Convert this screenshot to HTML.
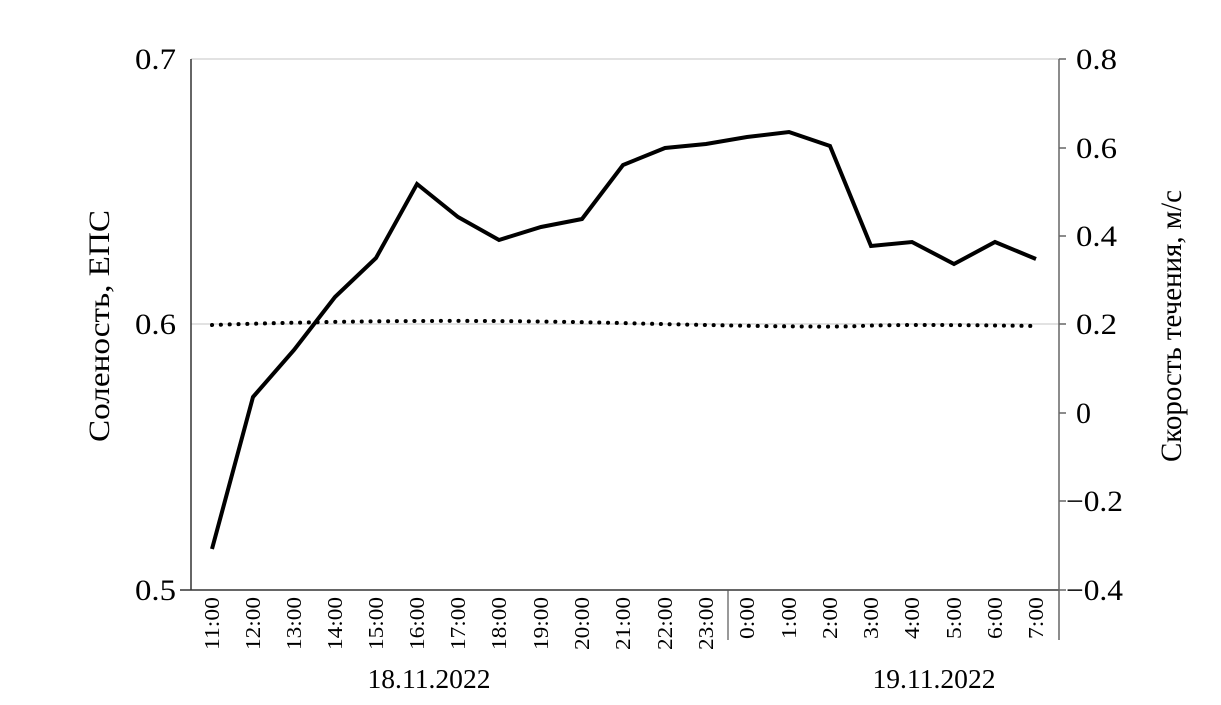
<!DOCTYPE html>
<html><head><meta charset="utf-8"><style>
html,body{margin:0;padding:0;background:#fff;}
svg text{font-family:"Liberation Serif",serif;fill:#000;}
</style></head><body>
<svg width="1221" height="700" viewBox="0 0 1221 700" xmlns="http://www.w3.org/2000/svg">
<rect width="1221" height="700" fill="#fff"/>
<line x1="191" y1="59" x2="1059" y2="59" stroke="#d9d9d9" stroke-width="1.5"/>
<line x1="191" y1="324" x2="1059" y2="324" stroke="#d9d9d9" stroke-width="1.5"/>
<line x1="191" y1="59" x2="191" y2="590" stroke="#333" stroke-width="1.5"/>
<line x1="180" y1="590" x2="1059" y2="590" stroke="#333" stroke-width="1.5"/>
<line x1="1059" y1="59" x2="1059" y2="640" stroke="#666" stroke-width="1.5"/>
<line x1="728" y1="590" x2="728" y2="640" stroke="#555" stroke-width="1.2"/>
<g stroke="#666" stroke-width="1.5">
<line x1="1059" y1="59" x2="1066" y2="59"/><line x1="1059" y1="148" x2="1066" y2="148"/>
<line x1="1059" y1="236" x2="1066" y2="236"/><line x1="1059" y1="324" x2="1066" y2="324"/>
<line x1="1059" y1="413" x2="1066" y2="413"/><line x1="1059" y1="501" x2="1066" y2="501"/>
<line x1="1059" y1="590" x2="1066" y2="590"/>
</g>
<g font-size="30" text-anchor="end" lengthAdjust="spacingAndGlyphs">
<text x="176" y="69" textLength="41" lengthAdjust="spacingAndGlyphs">0.7</text>
<text x="176" y="334" textLength="41" lengthAdjust="spacingAndGlyphs">0.6</text>
<text x="176" y="600" textLength="41" lengthAdjust="spacingAndGlyphs">0.5</text>
</g>
<g font-size="30">
<text x="1076" y="69" textLength="41" lengthAdjust="spacingAndGlyphs">0.8</text>
<text x="1076" y="158" textLength="41" lengthAdjust="spacingAndGlyphs">0.6</text>
<text x="1076" y="246" textLength="41" lengthAdjust="spacingAndGlyphs">0.4</text>
<text x="1076" y="334" textLength="41" lengthAdjust="spacingAndGlyphs">0.2</text>
<text x="1076" y="423">0</text>
<text x="1066" y="511" textLength="57" lengthAdjust="spacingAndGlyphs">−0.2</text>
<text x="1066" y="600" textLength="57" lengthAdjust="spacingAndGlyphs">−0.4</text>
</g>
<text transform="translate(109,326) rotate(-90)" font-size="30" text-anchor="middle" textLength="232" lengthAdjust="spacingAndGlyphs">Соленость, ЕПС</text>
<text transform="translate(1181,326) rotate(-90)" font-size="30" text-anchor="middle" textLength="272" lengthAdjust="spacingAndGlyphs">Скорость течения, м/с</text>
<polyline fill="none" stroke="#000" stroke-width="4" stroke-linejoin="miter" points="212,549 253,397 294,350 335,297 376,258 417,184 458,217 499,240 541,227 582,219 623,165 665,148 706,144 747,137 789,132 830,146 871,246 912,242 954,264 995,242 1036,259"/>
<path d="M212,325 Q420,318 620,323 T860,326 T1036,326" fill="none" stroke="#000" stroke-width="4" stroke-linecap="round" stroke-dasharray="0.1 8.7"/>
<g font-size="21" text-anchor="end">
<text transform="translate(219,597) rotate(-90)" textLength="53" lengthAdjust="spacingAndGlyphs">11:00</text>
<text transform="translate(260,597) rotate(-90)" textLength="53" lengthAdjust="spacingAndGlyphs">12:00</text>
<text transform="translate(301,597) rotate(-90)" textLength="53" lengthAdjust="spacingAndGlyphs">13:00</text>
<text transform="translate(342,597) rotate(-90)" textLength="53" lengthAdjust="spacingAndGlyphs">14:00</text>
<text transform="translate(383,597) rotate(-90)" textLength="53" lengthAdjust="spacingAndGlyphs">15:00</text>
<text transform="translate(424,597) rotate(-90)" textLength="53" lengthAdjust="spacingAndGlyphs">16:00</text>
<text transform="translate(465,597) rotate(-90)" textLength="53" lengthAdjust="spacingAndGlyphs">17:00</text>
<text transform="translate(506,597) rotate(-90)" textLength="53" lengthAdjust="spacingAndGlyphs">18:00</text>
<text transform="translate(548,597) rotate(-90)" textLength="53" lengthAdjust="spacingAndGlyphs">19:00</text>
<text transform="translate(589,597) rotate(-90)" textLength="53" lengthAdjust="spacingAndGlyphs">20:00</text>
<text transform="translate(630,597) rotate(-90)" textLength="53" lengthAdjust="spacingAndGlyphs">21:00</text>
<text transform="translate(672,597) rotate(-90)" textLength="53" lengthAdjust="spacingAndGlyphs">22:00</text>
<text transform="translate(713,597) rotate(-90)" textLength="53" lengthAdjust="spacingAndGlyphs">23:00</text>
<text transform="translate(754,597) rotate(-90)" textLength="42" lengthAdjust="spacingAndGlyphs">0:00</text>
<text transform="translate(796,597) rotate(-90)" textLength="42" lengthAdjust="spacingAndGlyphs">1:00</text>
<text transform="translate(837,597) rotate(-90)" textLength="42" lengthAdjust="spacingAndGlyphs">2:00</text>
<text transform="translate(878,597) rotate(-90)" textLength="42" lengthAdjust="spacingAndGlyphs">3:00</text>
<text transform="translate(919,597) rotate(-90)" textLength="42" lengthAdjust="spacingAndGlyphs">4:00</text>
<text transform="translate(961,597) rotate(-90)" textLength="42" lengthAdjust="spacingAndGlyphs">5:00</text>
<text transform="translate(1002,597) rotate(-90)" textLength="42" lengthAdjust="spacingAndGlyphs">6:00</text>
<text transform="translate(1043,597) rotate(-90)" textLength="42" lengthAdjust="spacingAndGlyphs">7:00</text>
</g>
<g font-size="27" text-anchor="middle">
<text x="429" y="688" textLength="123" lengthAdjust="spacingAndGlyphs">18.11.2022</text>
<text x="934" y="688" textLength="123" lengthAdjust="spacingAndGlyphs">19.11.2022</text>
</g>
</svg>
</body></html>
